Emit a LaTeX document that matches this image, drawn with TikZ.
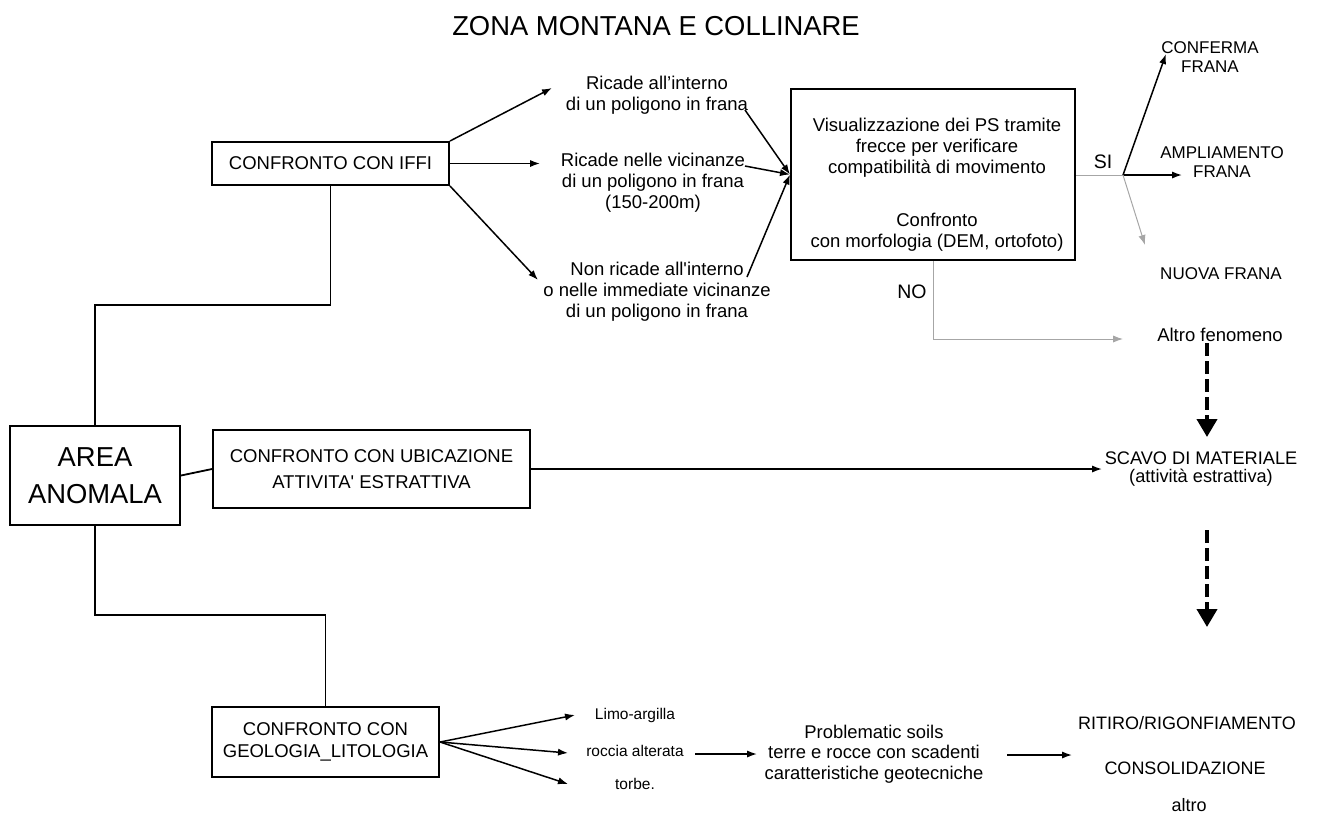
\documentclass[tikz,border=0pt]{standalone}
\usepackage{fontspec}
\setmainfont{Liberation Sans}
\usetikzlibrary{arrows.meta}
\tikzset{
  box/.style={draw, line width=1pt, inner sep=0pt, align=center, font=\fontsize{9.25}{13}\selectfont},
  txt/.style={inner sep=0pt, align=center, font=\fontsize{9.25}{10.5}\selectfont},
  small/.style={inner sep=0pt, align=center, font=\fontsize{7.75}{9}\selectfont},
  rtxt/.style={inner sep=0pt, align=center, font=\fontsize{8.5}{9.5}\selectfont},
  conn/.style={line width=0.9pt},
  arr/.style={line width=0.75pt, -{Latex[length=5pt,width=3.6pt]}},
  garr/.style={line width=0.5pt, draw=black!35, -{Latex[length=5pt,width=3.6pt]}},
  gline/.style={line width=0.5pt, draw=black!35},
  darr/.style={line width=2pt, dash pattern=on 6.5pt off 2.5pt, -{Triangle[length=9pt,width=10pt]}},
}
\begin{document}
\begin{tikzpicture}[x=0.5pt,y=-0.5pt]
\useasboundingbox (0,0) rectangle (1317,816);
% title
\node[inner sep=0pt, font=\fontsize{13.7}{16}\selectfont] (title) at (656,26) {ZONA MONTANA E COLLINARE};
% boxes
\node[box, minimum width=118.5pt, minimum height=21.5pt] (iffi) at (330.5,163.5) {CONFRONTO CON IFFI};
\node[box, minimum width=85pt, minimum height=49.5pt, font=\fontsize{13.7}{18.5}\selectfont] (area) at (95,475.5) {AREA\\ANOMALA};
\node[box, minimum width=158.5pt, minimum height=39pt] (ubic) at (371.5,469) {CONFRONTO CON UBICAZIONE\\ATTIVITA\textquotesingle{} ESTRATTIVA};
\node[box, minimum width=113.5pt, minimum height=35pt, font=\fontsize{9.25}{11}\selectfont] (geo) at (325.5,742) {CONFRONTO CON\\GEOLOGIA\_LITOLOGIA};
\node[box, minimum width=142pt, minimum height=85.5pt] (vis) at (933,174.5) {};
\node[txt] (vist1) at (937,148) {Visualizzazione dei PS tramite\\frecce per verificare\\compatibilità di movimento};
\node[txt] (vist2) at (937,232.5) {Confronto\\con morfologia (DEM, ortofoto)};
% middle texts
\node[txt] (ric1) at (657,95) {Ricade all’interno\\di un poligono in frana};
\node[txt] (ric2) at (653,182.5) {Ricade nelle vicinanze\\di un poligono in frana\\(150-200m)};
\node[txt] (ric3) at (657,292) {Non ricade all\textquotesingle interno\\o nelle immediate vicinanze\\di un poligono in frana};
% right texts
\node[rtxt] (conf) at (1210,57.5) {CONFERMA\\FRANA};
\node[rtxt] (ampl) at (1222,162.5) {AMPLIAMENTO\\FRANA};
\node[rtxt] (nuova) at (1221,274) {NUOVA FRANA};
\node[txt] (altro) at (1220,335) {Altro fenomeno};
\node[inner sep=0pt, font=\fontsize{9.75}{11}\selectfont] (si) at (1103,162) {SI};
\node[inner sep=0pt, font=\fontsize{9.75}{11}\selectfont] (no) at (912,292) {NO};
\node[inner sep=0pt, align=center, font=\fontsize{9.1}{9}\selectfont] (scavo) at (1201,469) {SCAVO DI MATERIALE\\(attività estrattiva)};
% bottom texts
\node[small] (limo) at (635,715) {Limo-argilla};
\node[small] (roccia) at (635,751) {roccia alterata};
\node[small] (torbe) at (635,784) {torbe.};
\node[txt, font=\fontsize{9.2}{10.3}\selectfont] (prob) at (874,754) {Problematic soils\\terre e rocce con scadenti\\caratteristiche geotecniche};
\node[txt, font=\fontsize{9}{10}\selectfont] (ritiro) at (1187,723) {RITIRO/RIGONFIAMENTO};
\node[txt, font=\fontsize{9}{10}\selectfont] (consol) at (1185,768) {CONSOLIDAZIONE};
\node[txt, font=\fontsize{9}{10}\selectfont] (altro2) at (1189,805) {altro};
% coordinates
\coordinate (j1) at (95,305);
\coordinate (j2) at (95,615);
\coordinate (t1) at (552,88);
\coordinate (t2) at (540,163.5);
\coordinate (t3) at (538,280);
\coordinate (s1) at (745,110);
\coordinate (s2) at (745,166);
\coordinate (s3) at (747,277);
\coordinate (sij) at (1123,175);
\coordinate (conftip) at (1166,54);
\coordinate (ampltip) at (1182,175);
\coordinate (nuovatip) at (1145,245);
\coordinate (notip) at (1123,339);
\coordinate (d1s) at (1207,343);
\coordinate (d1e) at (1207,437);
\coordinate (d2s) at (1207,530);
\coordinate (d2e) at (1207,627);
\coordinate (scavotip) at (1102,469);
\coordinate (lt1) at (575,715);
\coordinate (lt2) at (568,753);
\coordinate (lt3) at (568,784);
\coordinate (pa) at (695,754);
\coordinate (pb) at (757,754);
\coordinate (ra) at (1007,755);
\coordinate (rb) at (1072,755);
% connectors
\draw[conn] (iffi.south) |- (j1) -- (area.north);
\draw[conn] (area.south) -- (j2) -| (geo.north);
\draw[conn] (area.east) -- (ubic.west);
\draw[arr] (ubic.east) -- (scavotip);
\draw[arr] (iffi.north east) -- (t1);
\draw[arr] (iffi.east) -- (t2);
\draw[arr] (iffi.south east) -- (t3);
\draw[arr] (s1) -- (vis.west);
\draw[arr] (s2) -- (vis.west);
\draw[arr] (s3) -- (vis.west);
\draw[gline] (vis.east |- sij) -- (sij);
\draw[arr] (sij) -- (conftip);
\draw[arr] (sij) -- (ampltip);
\draw[garr] (sij) -- (nuovatip);
\draw[garr] (vis.south) |- (notip);
\draw[darr] (d1s) -- (d1e);
\draw[darr] (d2s) -- (d2e);
\draw[arr] (geo.east) -- (lt1);
\draw[arr] (geo.east) -- (lt2);
\draw[arr] (geo.east) -- (lt3);
\draw[arr] (pa) -- (pb);
\draw[arr] (ra) -- (rb);
\end{tikzpicture}
\end{document}
